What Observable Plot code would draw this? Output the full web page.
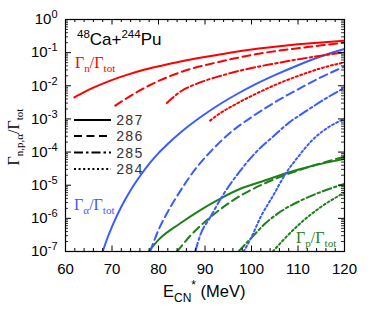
<!DOCTYPE html>
<html>
<head>
<meta charset="utf-8">
<script src="https://cdn.jsdelivr.net/npm/d3@7"></script>
<script src="https://cdn.jsdelivr.net/npm/@observablehq/plot@0.6"></script>
<style>
  html, body { margin: 0; padding: 0; background: white; }
</style>
</head>
<body>
<div id="chart"></div>
<script>
// ---------- data ----------
const isotopes = ["287", "286", "285", "284"];
const channels = ["n", "alpha", "p"];

// Γn/Γtot
const n287_E = [61.9, 64, 66.1, 69.5, 73.2, 76.5, 80.4, 85, 90, 95, 100.8, 105, 110, 115, 120];
const n287_G = [4.47e-3, 6.46e-3, 8.91e-3, 1.41e-2, 2.14e-2, 2.95e-2, 3.98e-2, 5.5e-2, 7.4e-2, 9.8e-2, 0.129, 0.151, 0.178, 0.204, 0.229];
const n286_E = [70.7, 72, 73, 76, 78, 80.4, 83, 86.5, 90, 93, 96.5, 100.8, 105, 110.5, 115, 120];
const n286_G = [2.51e-3, 3.31e-3, 4.07e-3, 7.24e-3, 1.02e-2, 1.48e-2, 2.09e-2, 3.09e-2, 4.17e-2, 5.25e-2, 6.76e-2, 8.91e-2, 0.110, 0.138, 0.166, 0.2];
const n285_E = [81.8, 83, 84, 85, 86.5, 88, 90.5, 93.6, 97, 100.8, 105, 110.5, 115, 120];
const n285_G = [3.02e-3, 4.27e-3, 5.62e-3, 7.08e-3, 9.12e-3, 1.12e-2, 1.51e-2, 2.04e-2, 2.75e-2, 3.63e-2, 4.68e-2, 6.46e-2, 8.13e-2, 0.102];
const n284_E = [91.1, 93, 96, 100.8, 105, 110.5, 115, 120];
const n284_G = [8.9e-4, 1.41e-3, 2.51e-3, 5.6e-3, 1.05e-2, 2.09e-2, 3.4e-2, 5.1e-2];

// Γα/Γtot
const a287_E = [68, 69, 70, 72, 74, 76, 78.2, 80, 81.8, 85, 89, 93.6, 97, 100.8, 105, 110, 115, 120];
const a287_G = [1e-7, 2.51e-7, 5.62e-7, 2.24e-6, 7.08e-6, 1.86e-5, 4.79e-5, 9.33e-5, 1.66e-4, 4.17e-4, 1.12e-3, 3.02e-3, 5.75e-3, 1.10e-2, 2.09e-2, 4.17e-2, 7.76e-2, 0.129];
const a286_E = [78.2, 80, 82, 84.7, 88, 91.1, 95.4, 100.5, 105, 110.5, 115, 120];
const a286_G = [1e-7, 4.47e-7, 1.58e-6, 6.76e-6, 3.16e-5, 1.0e-4, 3.8e-4, 1.26e-3, 3.16e-3, 8.51e-3, 1.82e-2, 3.8e-2];
const a285_E = [87.9, 89, 91.1, 94, 97.6, 101, 104.5, 108, 111.9, 116, 120];
const a285_G = [1e-7, 3.16e-7, 1.07e-6, 5.4e-6, 2.75e-5, 1.0e-4, 2.82e-4, 7.6e-4, 1.78e-3, 4.17e-3, 8.7e-3];
const a284_E = [98.3, 99.7, 102, 104.7, 107.3, 110, 113, 116, 120];
const a284_G = [1e-7, 2.24e-7, 1.12e-6, 5.0e-6, 2.19e-5, 7.1e-5, 2.24e-4, 5.0e-4, 1.0e-3];

// Γp/Γtot
const p287_E = [77.9, 80, 84.7, 89, 93.6, 97.6, 103, 107.6, 113, 120];
const p287_G = [1e-7, 2.24e-7, 7.1e-7, 1.78e-6, 4.17e-6, 7.8e-6, 1.41e-5, 2.34e-5, 3.8e-5, 6.2e-5];
const p286_E = [84, 87, 91.1, 97.6, 102, 106.9, 113, 120];
const p286_G = [1e-7, 3.16e-7, 1.07e-6, 4.8e-6, 1.0e-5, 1.95e-5, 3.8e-5, 7.2e-5];
const p285_E = [97.2, 99.7, 103, 106, 110.5, 115, 120];
const p285_G = [1e-7, 2.34e-7, 7.1e-7, 1.51e-6, 3.4e-6, 6.3e-6, 1.1e-5];
const p284_E = [104.6, 107, 110.5, 115, 120];
const p284_G = [1e-7, 2.34e-7, 7.1e-7, 2.24e-6, 6.0e-6];

// tick labels
const xMajor = [60, 70, 80, 90, 100, 110, 120];
const xMinor = [62, 64, 66, 68, 72, 74, 76, 78, 82, 84, 86, 88, 92, 94, 96, 98, 102, 104, 106, 108, 112, 114, 116, 118];
const yMajor = [1e-7, 1e-6, 1e-5, 1e-4, 1e-3, 1e-2, 1e-1, 1e0];
const yMinor = [];
for (const p of yMajor.slice(0, -1)) for (let k = 2; k <= 9; k++) yMinor.push(k * p);

// ---------- table built from the arrays ----------
const series = {
  n:     {"287": [n287_E, n287_G], "286": [n286_E, n286_G], "285": [n285_E, n285_G], "284": [n284_E, n284_G]},
  alpha: {"287": [a287_E, a287_G], "286": [a286_E, a286_G], "285": [a285_E, a285_G], "284": [a284_E, a284_G]},
  p:     {"287": [p287_E, p287_G], "286": [p286_E, p286_G], "285": [p285_E, p285_G], "284": [p284_E, p284_G]}
};
const rows = [];
for (const ch of channels) for (const iso of isotopes) {
  const [E, G] = series[ch][iso];
  E.forEach((e, i) => rows.push({ch, iso, key: ch + iso, E: e, G: G[i]}));
}

const RED = "#ff0000", BLUE = "#3a5cff", GREEN = "#1f7f1a";
const dashes = {"287": null, "286": "8,4.5", "285": "9,3,2.5,3", "284": "2,2.6"};

const W = 374, H = 320, mL = 65, mR = 30, mT = 19, mB = 69;
const plotW = W - mL - mR, plotH = H - mT - mB;

const lineMarks = isotopes.map(iso => Plot.line(rows.filter(r => r.iso === iso), {
  x: "E", y: "G", z: "key", stroke: "ch",
  strokeWidth: 2, strokeDasharray: dashes[iso] || undefined,
  curve: "monotone-x", clip: true
}));

const plot = Plot.plot({
  width: W, height: H,
  marginLeft: mL, marginRight: mR, marginTop: mT, marginBottom: mB,
  style: {fontFamily: "'Liberation Sans', Arial, sans-serif", fontSize: "15px", background: "white", color: "black"},
  x: {domain: [60, 120], label: null},
  y: {type: "log", domain: [1e-7, 1], label: null},
  color: {domain: channels, range: [RED, BLUE, GREEN]},
  marks: [
    ...lineMarks,
    // inside ticks
    Plot.tickX(xMajor, {x: d => d, insetTop: plotH - 5.5, strokeWidth: 1}),
    Plot.tickX(xMajor, {x: d => d, insetBottom: plotH - 5.5, strokeWidth: 1}),
    Plot.tickX(xMinor, {x: d => d, insetTop: plotH - 3, strokeWidth: 1}),
    Plot.tickX(xMinor, {x: d => d, insetBottom: plotH - 3, strokeWidth: 1}),
    Plot.tickY(yMajor, {y: d => d, insetRight: plotW - 6, strokeWidth: 1}),
    Plot.tickY(yMajor, {y: d => d, insetLeft: plotW - 6, strokeWidth: 1}),
    Plot.tickY(yMinor, {y: d => d, insetRight: plotW - 3, strokeWidth: 0.8}),
    Plot.tickY(yMinor, {y: d => d, insetLeft: plotW - 3, strokeWidth: 0.8}),
    Plot.axisX({ticks: xMajor, tickSize: 0, tickPadding: 12, fontSize: 15, label: null}),
    Plot.axisY({ticks: yMajor, tickSize: 0, tickPadding: 8, fontSize: 15, label: null,
      tickFormat: d => "10^" + Math.round(Math.log10(d))}),
    Plot.frame({stroke: "black", strokeWidth: 1.2})
  ]
});
document.getElementById("chart").append(plot);

const svg = d3.select(plot);

// y tick labels as 10 with superscript exponent
svg.selectAll('g[aria-label="y-axis tick label"] text').each(function () {
  const ex = this.textContent.split("^")[1];
  const t = d3.select(this);
  t.text(null);
  t.append("tspan").text("10");
  t.append("tspan").attr("dy", "-0.55em").attr("font-size", "11px").text(ex);
});

const serif = "'Liberation Serif', 'Times New Roman', serif";
const sans = "'Liberation Sans', Arial, sans-serif";
const ann = svg.append("g").attr("text-anchor", "start");

// helper: Γx/Γtot label
function gammaLabel(x, y, sub, color, size) {
  const t = ann.append("text").attr("x", x).attr("y", y).attr("text-anchor", "start")
    .attr("font-family", serif).attr("font-size", size).attr("fill", color);
  t.append("tspan").text("Γ");
  t.append("tspan").attr("font-size", size * 0.7).attr("dy", size * 0.28).text(sub);
  t.append("tspan").attr("dy", -size * 0.28).text("/Γ");
  t.append("tspan").attr("font-size", size * 0.7).attr("dy", size * 0.28).text("tot");
  return t;
}
gammaLabel(75, 68, "n", RED, 16);
gammaLabel(74, 210, "α", BLUE, 16);
gammaLabel(296, 243, "p", GREEN, 16);

// title
{
  const t = ann.append("text").attr("x", 77).attr("y", 45).attr("text-anchor", "start")
    .attr("font-family", sans).attr("font-size", 17).attr("fill", "black");
  t.append("tspan").attr("font-size", 11.5).attr("dy", -7).text("48");
  t.append("tspan").attr("dy", 7).text("Ca+");
  t.append("tspan").attr("font-size", 11.5).attr("dy", -7).text("244");
  t.append("tspan").attr("dy", 7).text("Pu");
}

// legend
const legendY = [120, 136, 152.5, 169];
isotopes.forEach((iso, i) => {
  ann.append("line").attr("x1", 74).attr("x2", 111).attr("y1", legendY[i]).attr("y2", legendY[i])
    .attr("stroke", "black").attr("stroke-width", 2)
    .attr("stroke-dasharray", dashes[iso] || null);
  ann.append("text").attr("x", 116).attr("y", legendY[i] + 5).attr("text-anchor", "start")
    .attr("font-family", "'Liberation Mono', 'DejaVu Sans Mono', monospace")
    .attr("font-size", 14).attr("letter-spacing", 0.7).attr("fill", "#333").text(iso);
});

// x axis label
{
  const t = ann.append("text").attr("x", 163).attr("y", 297).attr("text-anchor", "start")
    .attr("font-family", sans).attr("font-size", 16.5).attr("fill", "black");
  t.append("tspan").text("E");
  t.append("tspan").attr("font-size", 12).attr("dy", 5).text("CN");
  t.append("tspan").attr("font-size", 12).attr("dy", -13).text("*");
  t.append("tspan").attr("dy", 8).text(" (MeV)");
}

// y axis label
{
  const t = ann.append("text").attr("transform", "translate(18.5,137) rotate(-90)")
    .attr("text-anchor", "middle")
    .attr("font-family", serif).attr("font-size", 16).attr("fill", "black");
  t.append("tspan").text("Γ");
  t.append("tspan").attr("font-size", 11).attr("dy", 4.5).text("n,p,α");
  t.append("tspan").attr("dy", -4.5).text("/Γ");
  t.append("tspan").attr("font-size", 11).attr("dy", 4.5).text("tot");
}
</script>
</body>
</html>
